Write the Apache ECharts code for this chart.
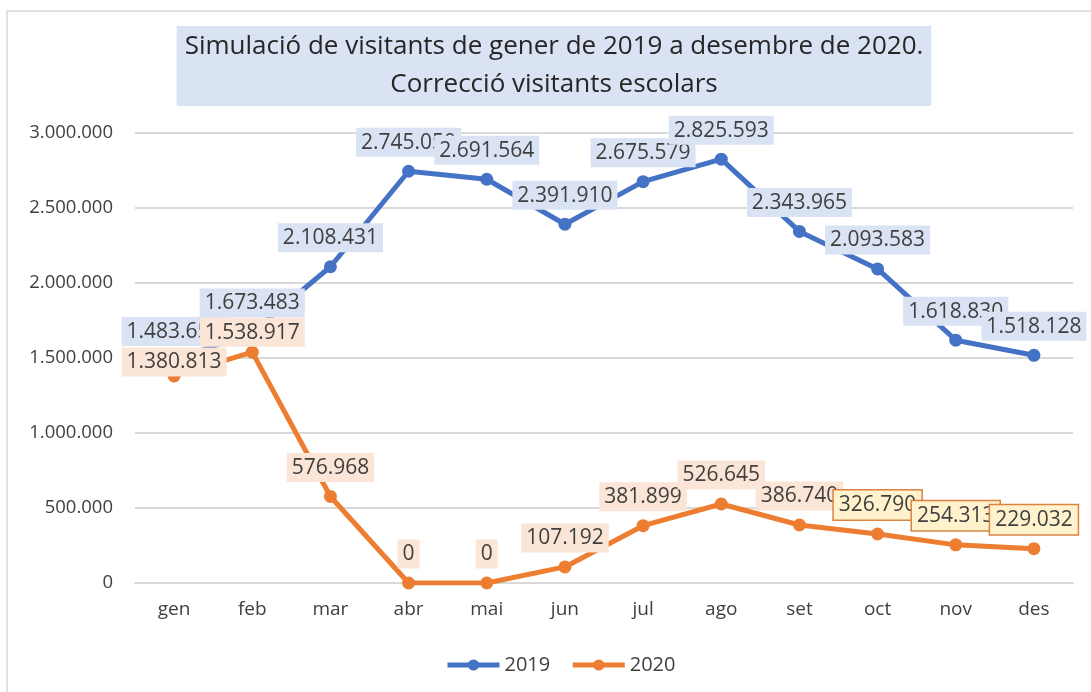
<!DOCTYPE html>
<html>
<head>
<meta charset="utf-8">
<script src="https://cdn.jsdelivr.net/npm/echarts@6/dist/echarts.min.js"></script>
<style>
html,body{margin:0;padding:0;background:#fff;}
#chart{width:1091px;height:692px;}
</style>
</head>
<body>
<div id="chart"></div>
<script>
const titleLines = ["Simulació de visitants de gener de 2019 a desembre de 2020.", "Correcció visitants escolars"];
const months = ["gen","feb","mar","abr","mai","jun","jul","ago","set","oct","nov","des"];
const visitants2019 = [1483650, 1673483, 2108431, 2745050, 2691564, 2391910, 2675579, 2825593, 2343965, 2093583, 1618830, 1518128];
const visitants2020 = [1380813, 1538917, 576968, 0, 0, 107192, 381899, 526645, 386740, 326790, 254313, 229032];
const yTicks = [0, 500000, 1000000, 1500000, 2000000, 2500000, 3000000];

function fmt(v){ return String(v).replace(/\B(?=(\d{3})+(?!\d))/g, '.'); }

const FONT = '"Open Sans", "Noto Sans", sans-serif';
const C19 = '#4472c4', C20 = '#ed7d31';

function baseLabel(bg){
  return {
    show: true, position: 'top', distance: 8,
    formatter: p => fmt(p.value),
    fontFamily: FONT, fontSize: 21, color: '#404040',
    backgroundColor: bg, padding: [4, 5, 3, 5], lineHeight: 22
  };
}

const data2019 = visitants2019.map(v => ({value: v}));
const data2020 = visitants2020.map((v, i) => {
  const item = {value: v};
  if (i === 0) item.label = {offset: [0, 15]};
  if (i === 1) item.label = {offset: [0, 9]};
  if (i >= 9) item.label = {backgroundColor: '#fff2cc', borderColor: '#d9843f', borderWidth: 1.5};
  return item;
});

const chart = echarts.init(document.getElementById('chart'), null, {renderer: 'canvas'});
chart.setOption({
  backgroundColor: '#fff',
  animation: false,
  graphic: [{
    type: 'rect', silent: true, z: -10,
    shape: {x: 7, y: 11, width: 1200, height: 800},
    style: {fill: 'none', stroke: '#d9d9d9', lineWidth: 1.5}
  }],
  title: {
    text: titleLines.join('\n'),
    left: 546, top: 26, textAlign: 'center',
    backgroundColor: '#dae3f3',
    padding: [2, 8, 2, 8],
    textStyle: {fontFamily: FONT, fontSize: 26, fontWeight: 'normal', color: '#262626', lineHeight: 38}
  },
  legend: {
    top: 650, left: 440,
    itemWidth: 52, itemHeight: 14, itemGap: 20,
    lineStyle: {width: 5},
    textStyle: {fontFamily: FONT, fontSize: 20, color: '#404040'},
    data: ['2019', '2020']
  },
  grid: {left: 135, right: 18, top: 133, bottom: 109},
  xAxis: {
    type: 'category', data: months, boundaryGap: true,
    axisLine: {lineStyle: {color: '#d9d9d9', width: 2}},
    axisTick: {show: false},
    axisLabel: {fontFamily: FONT, fontSize: 19, color: '#404040', margin: 17}
  },
  yAxis: {
    type: 'value', min: yTicks[0], max: yTicks[yTicks.length - 1], interval: yTicks[1] - yTicks[0],
    axisLine: {show: false}, axisTick: {show: false},
    splitLine: {lineStyle: {color: '#d9d9d9', width: 2}},
    axisLabel: {fontFamily: FONT, fontSize: 18.5, color: '#404040', margin: 22, formatter: v => fmt(v)}
  },
  series: [
    {
      name: '2019', type: 'line', data: data2019,
      symbol: 'circle', symbolSize: 13,
      itemStyle: {color: C19}, lineStyle: {color: C19, width: 5},
      label: baseLabel('#dae3f3'),
      z: 2
    },
    {
      name: '2020', type: 'line', data: data2020,
      symbol: 'circle', symbolSize: 13,
      itemStyle: {color: C20}, lineStyle: {color: C20, width: 5},
      label: baseLabel('#fbe5d6'),
      z: 3
    }
  ]
});
</script>
</body>
</html>
